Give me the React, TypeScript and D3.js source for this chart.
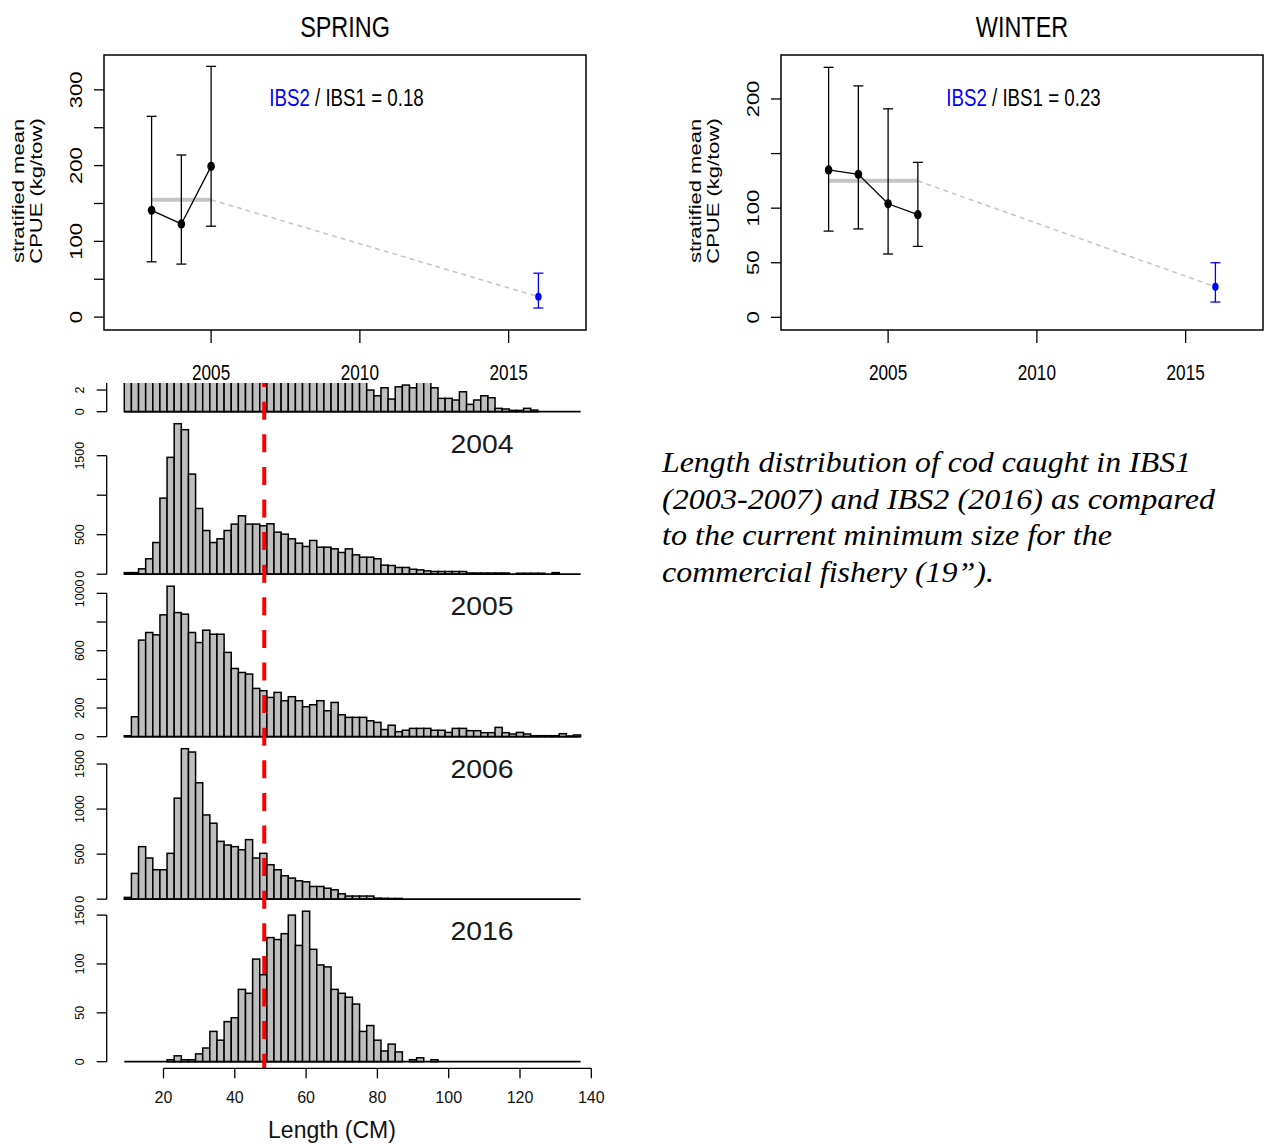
import React from "react";
import * as d3 from "d3";

const SANS = "'Liberation Sans', Arial, Helvetica, sans-serif";
const SERIF = "'Liberation Serif', 'Times New Roman', Times, serif";

// ---------------- CPUE data ----------------
const springYears = [2003, 2004, 2005];
const springMean = [141, 123, 199];
const springLower = [73, 70, 120];
const springUpper = [265, 214, 331];
const springIbs1Mean = 155;
const springIbs2Mean = 27;
const springIbs2Lower = 12;
const springIbs2Upper = 58;
const springRatio = "0.18";

const winterYears = [2003, 2004, 2005, 2006];
const winterMean = [135, 131, 104, 94];
const winterLower = [79, 81, 58, 65];
const winterUpper = [229, 212, 191, 142];
const winterIbs1Mean = 125;
const winterIbs2Mean = 28;
const winterIbs2Lower = 14;
const winterIbs2Upper = 50;
const winterRatio = "0.23";

const ibs2Year = 2016;
const topXTicks = [2005, 2010, 2015];
const springYTicks = [0, 50, 100, 150, 200, 250, 300];
const springYLabels = [0, 100, 200, 300];
const winterYTicks = [0, 50, 100, 150, 200];
const winterYLabels = [0, 50, 100, 200];

// ---------------- Length histograms (2 cm bins starting at 9 cm) ----------------
const binStarts = d3.range(9, 137, 2);
const len2003 = [3.2, 4.5, 6.8, 8.9, 10.5, 12.6, 13.9, 13.1, 11.8, 10.2, 9.1, 8.4, 8.0, 7.7, 7.5, 7.1, 6.8, 6.3, 6.0, 5.6, 5.3, 5.1, 4.8, 4.6, 4.3, 4.1, 3.9, 3.6, 3.4, 3.2, 3.1, 3.0, 2.95, 2.9,
  2.0, 1.47, 2.21, 1.17, 2.3, 2.46, 2.21, 2.8, 2.8, 2.21, 1.23, 1.23, 1.08, 1.84, 0.68, 1.08, 1.47, 1.29, 0.31, 0.25, 0.12, 0.12, 0.31, 0.15, 0, 0, 0, 0, 0, 0];
const len2004 = [20, 20, 68, 195, 401, 963, 1479, 1905, 1829, 1267, 832, 553, 401, 448, 553, 634, 739, 634, 634, 613, 638, 532, 507, 448, 393, 351, 427, 342, 342, 321, 275, 321, 245, 215,
  215, 195, 115, 110, 85, 85, 63, 55, 42, 34, 34, 34, 34, 34, 15, 15, 15, 15, 15, 15, 0, 12, 12, 12, 12, 0, 20, 0, 0, 0];
const len2005 = [7, 139, 674, 727, 711, 850, 1050, 866, 855, 727, 657, 743, 715, 715, 588, 476, 448, 437, 337, 321, 274, 309, 251, 279, 251, 209, 223, 251, 181, 239, 153, 135, 135, 135,
  111, 100, 50, 80, 35, 45, 58, 58, 58, 45, 45, 30, 58, 58, 42, 42, 28, 28, 65, 28, 19, 30, 19, 7, 7, 7, 7, 21, 5, 12];
const len2006 = [20, 286, 583, 457, 327, 327, 509, 1121, 1670, 1633, 1292, 935, 843, 642, 601, 583, 549, 661, 457, 509, 382, 327, 260, 234, 204, 193, 141, 141, 122, 104, 60, 35, 35, 35,
  35, 12, 10, 8, 8, 0, 0, 0, 0, 0, 0, 0, 0, 0, 0, 0, 0, 0, 0, 0, 0, 0, 0, 0, 0, 0, 0, 0, 0, 0];
const len2016 = [0, 0, 0, 0, 0, 0, 2, 6, 2, 2, 8, 14, 31, 22, 41, 45, 74, 70, 105, 89, 127, 125, 131, 150, 119, 154, 115, 99, 97, 74, 70, 66, 59, 31,
  37, 22, 11, 18, 10, 0, 2, 4, 0, 2, 0, 0, 0, 0, 0, 0, 0, 0, 0, 0, 0, 0, 0, 0, 0, 0, 0, 0, 0, 0];

const panelYears = ["2003", "2004", "2005", "2006", "2016"];
const panelValues = [len2003, len2004, len2005, len2006, len2016];
const panelTicks = [
  [0, 2, 4, 6, 8, 10, 12],
  [0, 500, 1000, 1500],
  [0, 200, 400, 600, 800, 1000],
  [0, 500, 1000, 1500],
  [0, 50, 100, 150],
];
const panelTickLabels = [
  [0, 2, 4, 6, 8, 10, 12],
  [0, 500, 1500],
  [0, 200, 600, 1000],
  [0, 500, 1000, 1500],
  [0, 50, 100, 150],
];
const lengthTicks = [20, 40, 60, 80, 100, 120, 140];
const minSizeCm = 48.26; // 19 inches

const captionLines = [
  "Length distribution of cod caught in IBS1",
  "(2003-2007) and IBS2 (2016) as compared",
  "to the current minimum size for the",
  "commercial fishery (19\u201d).",
];
const captionWidths = [529, 553, 450, 332];

// ---------------- layout ----------------
const W = 1264;
const H = 1144;
const SX = 0.78;
const TOP = 55;
const BOTTOM = 330;

function HText(props: any) {
  const { x, y, size, anchor = "middle", fill = "#000", sx = SX, children, family = SANS } = props;
  return (
    <text transform={`translate(${x},${y}) scale(${sx},1)`} fontSize={size} textAnchor={anchor} fill={fill} fontFamily={family}>
      {children}
    </text>
  );
}

function VText(props: any) {
  const { x, y, size, fill = "#000", sx = SX, children } = props;
  return (
    <text transform={`translate(${x},${y}) scale(${sx},1) rotate(-90)`} fontSize={size} textAnchor="middle" fill={fill} fontFamily={SANS}>
      {children}
    </text>
  );
}

function CpuePanel(p: any) {
  const x = d3.scaleLinear().domain([2001.4, 2017.6]).range([p.left, p.right]);
  const y = d3.scaleLinear().domain(p.yDomain).range([BOTTOM, TOP]);
  const line = d3.line<number>().x((d, i) => x(p.years[i])).y((d) => y(d));
  const cap = 5;
  const gray = "#c4c4c4";
  const first = p.years[0];
  const last = p.years[p.years.length - 1];
  const cx = (p.left + p.right) / 2;
  return (
    <g>
      <HText x={cx} y={37} size={30}>{p.title}</HText>
      <rect x={p.left} y={TOP} width={p.right - p.left} height={BOTTOM - TOP} fill="none" stroke="#000" strokeWidth={1.5} />
      {p.yTicks.map((t: number) => (
        <line key={"yt" + t} x1={p.left - 10} x2={p.left} y1={y(t)} y2={y(t)} stroke="#000" strokeWidth={1.3} />
      ))}
      {p.yLabels.map((t: number) => (
        <VText key={"yl" + t} x={p.left - 22} y={y(t)} size={22}>{t}</VText>
      ))}
      {topXTicks.map((t) => (
        <line key={"xt" + t} x1={x(t)} x2={x(t)} y1={BOTTOM} y2={BOTTOM + 13} stroke="#000" strokeWidth={1.3} />
      ))}
      {topXTicks.map((t) => (
        <HText key={"xl" + t} x={x(t)} y={380} size={22}>{t}</HText>
      ))}
      <VText x={p.left - 80} y={191} size={22}>stratified mean</VText>
      <VText x={p.left - 62} y={191} size={22}>CPUE (kg/tow)</VText>

      <line x1={x(first)} x2={x(last)} y1={y(p.ibs1Mean)} y2={y(p.ibs1Mean)} stroke={gray} strokeWidth={4} />
      <line x1={x(last)} x2={x(ibs2Year)} y1={y(p.ibs1Mean)} y2={y(p.ibs2Mean)} stroke={gray} strokeWidth={1.5} strokeDasharray="5 4" />

      {p.years.map((yr: number, i: number) => (
        <g key={"eb" + yr} stroke="#000" strokeWidth={1.3}>
          <line x1={x(yr)} x2={x(yr)} y1={y(p.lower[i])} y2={y(p.upper[i])} />
          <line x1={x(yr) - cap} x2={x(yr) + cap} y1={y(p.lower[i])} y2={y(p.lower[i])} />
          <line x1={x(yr) - cap} x2={x(yr) + cap} y1={y(p.upper[i])} y2={y(p.upper[i])} />
        </g>
      ))}
      <path d={line(p.mean) || ""} fill="none" stroke="#000" strokeWidth={1.3} />
      {p.years.map((yr: number, i: number) => (
        <ellipse key={"pt" + yr} cx={x(yr)} cy={y(p.mean[i])} rx={3.8} ry={4.6} fill="#000" />
      ))}

      <g stroke="#0000ff" strokeWidth={1.3}>
        <line x1={x(ibs2Year)} x2={x(ibs2Year)} y1={y(p.ibs2Lower)} y2={y(p.ibs2Upper)} />
        <line x1={x(ibs2Year) - cap} x2={x(ibs2Year) + cap} y1={y(p.ibs2Lower)} y2={y(p.ibs2Lower)} />
        <line x1={x(ibs2Year) - cap} x2={x(ibs2Year) + cap} y1={y(p.ibs2Upper)} y2={y(p.ibs2Upper)} />
      </g>
      <ellipse cx={x(ibs2Year)} cy={y(p.ibs2Mean)} rx={3.2} ry={4} fill="#0000ff" />

      <HText x={x(2009.55)} y={106} size={24}>
        <tspan fill="#0000ff">IBS2</tspan>
        <tspan fill="#000">{" / IBS1 = " + p.ratio}</tspan>
      </HText>
    </g>
  );
}

const xh = d3.scaleLinear().domain([20, 140]).range([163.5, 591.3]);
const FIRST_BASE = 411.7;
const STEP = 162.5;
const BAR_H = 150.5;
const AXIS_X = 106.7;

function HistPanel(p: any) {
  const base = FIRST_BASE + STEP * p.index;
  const y = d3.scaleLinear().domain([0, d3.max(p.values as number[]) as number]).range([base, base - BAR_H]);
  const ticks: number[] = p.ticks;
  return (
    <g>
      {p.values.map((v: number, i: number) =>
        v > 0 ? (
          <rect
            key={i}
            x={xh(binStarts[i])}
            y={y(v)}
            width={xh(binStarts[i] + 2) - xh(binStarts[i])}
            height={base - y(v)}
            fill="#bebebe"
            stroke="#000"
            strokeWidth={1.5}
          />
        ) : null
      )}
      <line x1={xh(binStarts[0])} x2={xh(binStarts[binStarts.length - 1] + 2)} y1={base} y2={base} stroke="#000" strokeWidth={1.8} />
      <line x1={AXIS_X} x2={AXIS_X} y1={y(ticks[0])} y2={y(ticks[ticks.length - 1])} stroke="#000" strokeWidth={1.3} />
      {ticks.map((t) => (
        <line key={"t" + t} x1={AXIS_X - 10} x2={AXIS_X} y1={y(t)} y2={y(t)} stroke="#000" strokeWidth={1.3} />
      ))}
      {p.labels.map((t: number) => (
        <VText key={"l" + t} x={84} y={y(t)} size={12.5} sx={1}>{t}</VText>
      ))}
      <text x={482} y={base - 121.5} fontSize={26} textAnchor="middle" fill="#1a1a1a" fontFamily={SANS} textLength={63} lengthAdjust="spacingAndGlyphs">
        {p.year}
      </text>
    </g>
  );
}

export default function App() {
  const redX = xh(minSizeCm);
  const axisY = 1068.3;
  return (
    <svg width={W} height={H} style={{ position: "absolute", left: 0, top: 0, background: "#fff" }} xmlns="http://www.w3.org/2000/svg">
      <rect x={0} y={0} width={W} height={H} fill="#fff" />
      <defs>
        <clipPath id="histClip">
          <rect x={0} y={383} width={W} height={H - 383} />
        </clipPath>
      </defs>

      <CpuePanel
        title="SPRING"
        left={104}
        right={586}
        yDomain={[-17, 346]}
        years={springYears}
        mean={springMean}
        lower={springLower}
        upper={springUpper}
        ibs1Mean={springIbs1Mean}
        ibs2Mean={springIbs2Mean}
        ibs2Lower={springIbs2Lower}
        ibs2Upper={springIbs2Upper}
        yTicks={springYTicks}
        yLabels={springYLabels}
        ratio={springRatio}
      />
      <CpuePanel
        title="WINTER"
        left={781}
        right={1263}
        yDomain={[-11.6, 240.3]}
        years={winterYears}
        mean={winterMean}
        lower={winterLower}
        upper={winterUpper}
        ibs1Mean={winterIbs1Mean}
        ibs2Mean={winterIbs2Mean}
        ibs2Lower={winterIbs2Lower}
        ibs2Upper={winterIbs2Upper}
        yTicks={winterYTicks}
        yLabels={winterYLabels}
        ratio={winterRatio}
      />

      <g clipPath="url(#histClip)">
        {panelValues.map((vals, i) => (
          <HistPanel key={panelYears[i]} index={i} values={vals} ticks={panelTicks[i]} labels={panelTickLabels[i]} year={panelYears[i]} />
        ))}
        <line x1={redX} x2={redX} y1={383} y2={axisY} stroke="#ff0000" strokeWidth={4} strokeDasharray="18 14.6" strokeDashoffset={13.9} />
      </g>

      <line x1={xh(20)} x2={xh(140)} y1={axisY} y2={axisY} stroke="#000" strokeWidth={1.3} />
      {lengthTicks.map((t) => (
        <line key={"lt" + t} x1={xh(t)} x2={xh(t)} y1={axisY} y2={axisY + 10} stroke="#000" strokeWidth={1.3} />
      ))}
      {lengthTicks.map((t) => (
        <text key={"ll" + t} x={xh(t)} y={1103} fontSize={16} textAnchor="middle" fontFamily={SANS} fill="#111">
          {t}
        </text>
      ))}
      <text x={332} y={1138} fontSize={23} textAnchor="middle" fontFamily={SANS} fill="#111">
        Length (CM)
      </text>

      {captionLines.map((s, i) => (
        <text
          key={"c" + i}
          x={662}
          y={472 + i * 36.7}
          fontSize={30}
          fontStyle="italic"
          fontFamily={SERIF}
          fill="#000"
          textLength={captionWidths[i]}
          lengthAdjust="spacingAndGlyphs"
        >
          {s}
        </text>
      ))}
    </svg>
  );
}
